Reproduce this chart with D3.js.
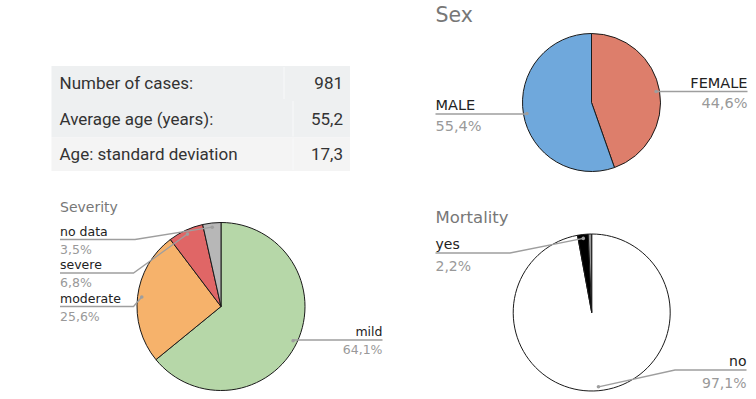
<!DOCTYPE html>
<html>
<head>
<meta charset="utf-8">
<script src="https://cdn.jsdelivr.net/npm/d3@7"></script>
<style>
  html, body { margin: 0; padding: 0; background: #fff; }
  svg { display: block; }
</style>
</head>
<body>
<div id="chart"></div>
<script>
document.addEventListener('DOMContentLoaded', () => {

  // data
  const statLabels = ["Number of cases:", "Average age (years):", "Age: standard deviation"];
  const statValues = ["981", "55,2", "17,3"];

  const severityCats = ["mild", "moderate", "severe", "no data"];
  const severityValues = [64.1, 25.6, 6.8, 3.5];

  const sexCats = ["FEMALE", "MALE"];
  const sexValues = [44.6, 55.4];

  const mortalityCats = ["no", "yes", "no data"];
  const mortalityValues = [97.1, 2.2, 0.7];

  const pct = v => d3.format(".1f")(v).replace(".", ",") + "%";

  const width = 756, height = 399;
  const svg = d3.select("#chart").append("svg")
      .attr("width", width)
      .attr("height", height);

  // summary table
  const table = svg.append("g");
  const rowY = d3.scaleOrdinal().domain(d3.range(3)).range([66, 100, 137.5]);
  const rowH = [34, 37.5, 33.5];
  const rowFill = ["#eef0f1", "#eef0f1", "#f4f4f4"];
  const seam = [284, 293, 293];
  statLabels.forEach((label, i) => {
    const g = table.append("g").attr("transform", `translate(0,${rowY(i)})`);
    g.append("rect").attr("x", 51.5).attr("width", 298.5).attr("height", rowH[i]).attr("fill", rowFill[i]);
    g.append("line").attr("x1", seam[i]).attr("x2", seam[i]).attr("y1", 1).attr("y2", rowH[i] - 1)
      .attr("stroke", "#f8f9fa").attr("stroke-width", 1);
    g.append("text").attr("x", 59.5).attr("y", rowH[i] / 2 + 6)
      .style("font", "17px Roboto").attr("fill", "#333").text(label);
    g.append("text").attr("x", 343).attr("y", rowH[i] / 2 + 6).attr("text-anchor", "end")
      .style("font", "17px Roboto").attr("fill", "#333").text(statValues[i]);
  });

  const drawPie = (opts) => {
    const {cats, values, colors, cx, cy, r, title, titleX, titleY, titleSize, labelSize, pctGap, labels} = opts;
    const g = svg.append("g");
    g.append("text").attr("x", titleX).attr("y", titleY)
      .style("font", `${titleSize}px "DejaVu Sans"`).attr("fill", "#777").text(title);

    const pie = d3.pie().sort(null).value(d => d.value);
    const arcs = pie(cats.map((c, i) => ({name: c, value: values[i]})));
    const arc = d3.arc().innerRadius(0).outerRadius(r);
    const dotArc = d3.arc().innerRadius(r * 0.95).outerRadius(r * 0.95);

    const pg = g.append("g").attr("transform", `translate(${cx},${cy})`);
    pg.selectAll("path").data(arcs).join("path")
      .attr("d", arc)
      .attr("fill", (d, i) => colors[i])
      .attr("stroke", "#1a1a1a")
      .attr("stroke-width", 1)
      .attr("stroke-linejoin", "round");

    arcs.forEach(d => {
      const lab = labels[d.data.name];
      if (!lab) return;
      const [px, py] = dotArc.centroid(d);
      const dx = cx + px, dy = cy + py;
      const pts = [[lab.x, lab.ly], [lab.elbow ?? dx, lab.ly], [dx, dy]];
      g.append("path").attr("d", d3.line()(pts))
        .attr("fill", "none").attr("stroke", "#9e9e9e").attr("stroke-width", 1.3);
      g.append("circle").attr("cx", dx).attr("cy", dy).attr("r", 1.8).attr("fill", "#9e9e9e");
      const anchor = lab.side === "left" ? "start" : "end";
      g.append("text").attr("x", lab.x).attr("y", lab.ly - 4).attr("text-anchor", anchor)
        .style("font", `${labelSize}px "DejaVu Sans"`).attr("fill", "#222").text(d.data.name);
      g.append("text").attr("x", lab.x).attr("y", lab.ly + pctGap).attr("text-anchor", anchor)
        .style("font", `${labelSize}px "DejaVu Sans"`).attr("fill", "#999").text(pct(d.data.value));
    });
  };

  drawPie({
    cats: severityCats, values: severityValues,
    colors: ["#b6d7a8", "#f6b26b", "#e06666", "#b7b7b7"],
    cx: 221, cy: 306.5, r: 84,
    title: "Severity", titleX: 60, titleY: 212, titleSize: 14, labelSize: 12.5, pctGap: 14,
    labels: {
      "no data": {side: "left", x: 60, ly: 239.5, elbow: 135},
      "severe": {side: "left", x: 60, ly: 273, elbow: 133.5},
      "moderate": {side: "left", x: 60, ly: 306.5, elbow: 133.5},
      "mild": {side: "right", x: 382.5, ly: 340}
    }
  });

  drawPie({
    cats: sexCats, values: sexValues,
    colors: ["#dd7e6b", "#6fa8dc"],
    cx: 591.5, cy: 102.5, r: 69,
    title: "Sex", titleX: 435.5, titleY: 22, titleSize: 20.5, labelSize: 14.5, pctGap: 16.5,
    labels: {
      "FEMALE": {side: "right", x: 747.5, ly: 91.5},
      "MALE": {side: "left", x: 435.5, ly: 114}
    }
  });

  drawPie({
    cats: mortalityCats, values: mortalityValues,
    colors: ["#ffffff", "#000000", "#999999"],
    cx: 591.7, cy: 312.5, r: 78.5,
    title: "Mortality", titleX: 435.5, titleY: 223, titleSize: 16.5, labelSize: 14, pctGap: 18,
    labels: {
      "yes": {side: "left", x: 435.5, ly: 253, elbow: 510},
      "no": {side: "right", x: 746.5, ly: 370, elbow: 675}
    }
  });
});
</script>
</body>
</html>
